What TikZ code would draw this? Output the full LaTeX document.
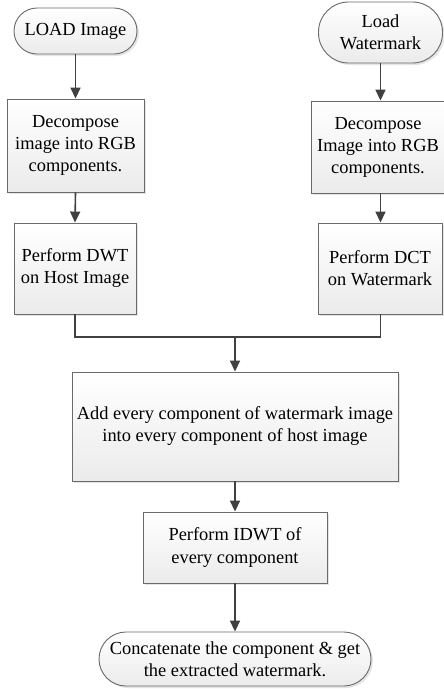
\documentclass[tikz,border=0pt]{standalone}
\usepackage{fontspec}
\setmainfont{Liberation Serif}
\newfontfamily\diagfont{Liberation Serif}
\usetikzlibrary{arrows.meta,shadows}
\definecolor{bordergray}{HTML}{6A6A6A}
\definecolor{linegray}{HTML}{404040}
\definecolor{boxbot}{HTML}{EBEBEB}
\begin{document}
\begin{tikzpicture}[x=1pt,y=-1pt,
  base/.style={draw=bordergray, line width=0.9pt, top color=white, bottom color=boxbot,
    align=center, inner sep=0pt, font=\diagfont\fontsize{18.4}{22}\selectfont, text=black,
    drop shadow={shadow xshift=2pt, shadow yshift=-2pt, fill=black!20, opacity=0.5}},
  procbox/.style={base, rectangle},
  termbox/.style={base, rectangle, rounded corners=#1},
  flow/.style={draw=linegray, line width=1.6pt},
  arr/.style={flow, -{Triangle[width=10pt,length=11pt]}}
]
\useasboundingbox (0,0) rectangle (444,689);
\fill[white] (0,0) rectangle (444,689);

\node[termbox=23pt, minimum width=123pt, minimum height=46pt] (load) at (75.5,31) {LOAD Image};
\node[procbox, minimum width=137pt, minimum height=93pt] (dec1) at (75.5,145.5) {Decompose\\image into RGB\\components.};
\node[procbox, minimum width=122pt, minimum height=91pt] (dwt) at (75,268.5) {Perform DWT\\on Host Image};

\node[termbox=30pt, minimum width=124pt, minimum height=61pt] (loadw) at (380.5,32.5) {Load\\Watermark};
\node[procbox, minimum width=134pt, minimum height=92pt] (dec2) at (378,147) {Decompose\\Image into RGB\\components.};
\node[procbox, minimum width=124pt, minimum height=91pt] (dct) at (380,268.5) {Perform DCT\\on Watermark};

\node[procbox, minimum width=326pt, minimum height=109pt] (add) at (235,426.5) {Add every component of watermark image\\into every component of host image};
\node[procbox, minimum width=184pt, minimum height=71pt] (idwt) at (235,547.5) {Perform IDWT of\\every component};
\node[termbox=27pt, minimum width=272pt, minimum height=54pt] (final) at (235,659) {Concatenate the component \& get\\the extracted watermark.};

\coordinate (j) at (235,337);

\draw[arr] (load.south) -- (dec1.north);
\draw[arr] (dec1.south) -- (dwt.north);
\draw[arr] (loadw.south) -- (loadw.south |- dec2.north);
\draw[arr] (loadw.south |- dec2.south) -- (loadw.south |- dct.north);
\draw[flow] (dwt.south) |- (j) -| (loadw.south |- dct.south);
\draw[arr] (j) -- (add.north);
\draw[arr] (add.south) -- (idwt.north);
\draw[arr] (idwt.south) -- (final.north);
\end{tikzpicture}
\end{document}
